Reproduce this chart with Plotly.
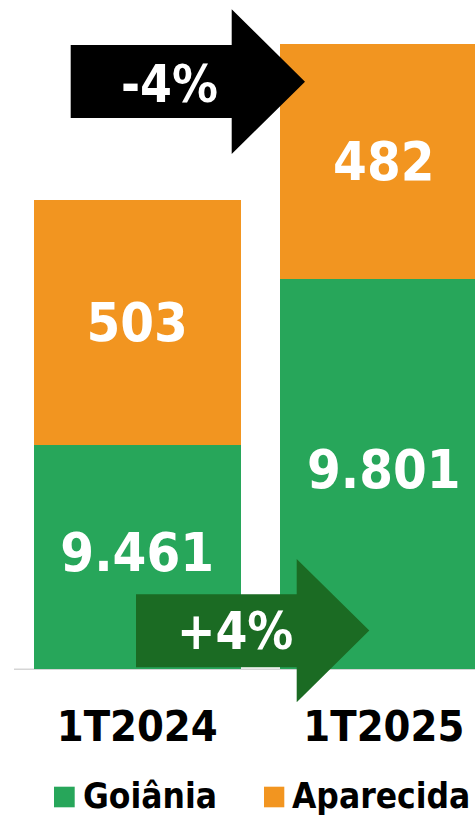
import plotly.graph_objects as go

# ---- data ----
categories = ["1T2024", "1T2025"]
goiania = [9461, 9801]
aparecida = [503, 482]
goiania_labels = ["9.461", "9.801"]
aparecida_labels = ["503", "482"]
series_names = ["Goiânia", "Aparecida"]
change_aparecida = "-4%"
change_goiania = "+4%"

GREEN = "#27A65A"
ORANGE = "#F29520"
DARK_GREEN = "#1B6B23"
FONT = "DejaVu Sans Condensed, DejaVu Sans, Verdana, sans-serif"

W, H = 475, 817
MT, MB = 0, 148
PH = H - MT - MB  # plot height in px
Y_MIN = 9003      # truncated value axis start
PX_PER_UNIT = 0.4884


def px_x(px):
    return px / W


def px_y(py):
    return (MT + PH - py) / PH


def path_from_px(points):
    return "M " + " L ".join(f"{px_x(x):.5f},{px_y(y):.5f}" for x, y in points) + " Z"


x_idx = list(range(len(categories)))
value_font = dict(family=FONT, size=54, color="white", weight="bold")

fig = go.Figure()
fig.add_trace(go.Bar(
    x=x_idx, y=goiania, name=series_names[0], marker=dict(color=GREEN, line=dict(width=0)),
    textposition="none", width=0.839, hoverinfo="skip", showlegend=False,
))
fig.add_trace(go.Bar(
    x=x_idx, y=aparecida, name=series_names[1], marker=dict(color=ORANGE, line=dict(width=0)),
    text=aparecida_labels, textposition="inside", insidetextanchor="middle",
    textfont=value_font, width=0.839, hoverinfo="skip", showlegend=False,
))
# labels of the (truncated) green segments, centred in their visible part
fig.add_trace(go.Scatter(
    x=x_idx, y=[(Y_MIN + v) / 2 for v in goiania], mode="text", text=goiania_labels,
    textposition="middle center", textfont=value_font, hoverinfo="skip", showlegend=False,
))

shapes = []
shapes.append(dict(type="line", xref="paper", yref="paper", x0=px_x(14), x1=1.0,
                   y0=px_y(669.3), y1=px_y(669.3), line=dict(color="#D5D5D5", width=1.5), layer="below"))
shapes.append(dict(type="path", xref="paper", yref="paper", fillcolor="black", line=dict(width=0),
                   path=path_from_px([(70.7, 45), (231.7, 45), (231.7, 9.3), (305, 81.7),
                                      (231.7, 154), (231.7, 118), (70.7, 118)])))
shapes.append(dict(type="path", xref="paper", yref="paper", fillcolor=DARK_GREEN, line=dict(width=0),
                   path=path_from_px([(136, 594.3), (296.7, 594.3), (296.7, 559), (369.3, 630.5),
                                      (296.7, 702.3), (296.7, 667.3), (136, 667.3)])))
shapes.append(dict(type="rect", xref="paper", yref="paper", fillcolor=GREEN, line=dict(width=0),
                   x0=px_x(54), x1=px_x(74.7), y0=px_y(807.3), y1=px_y(786.7)))
shapes.append(dict(type="rect", xref="paper", yref="paper", fillcolor=ORANGE, line=dict(width=0),
                   x0=px_x(264), x1=px_x(284.3), y0=px_y(807.3), y1=px_y(786.7)))

annotations = [
    dict(text=change_aparecida, xref="paper", yref="paper", x=px_x(169), y=px_y(84),
         xanchor="center", yanchor="middle", showarrow=False,
         font=dict(family=FONT, size=51, color="white", weight="bold")),
    dict(text=change_goiania, xref="paper", yref="paper", x=px_x(235), y=px_y(631),
         xanchor="center", yanchor="middle", showarrow=False,
         font=dict(family=FONT, size=51, color="white", weight="bold")),
    dict(text=series_names[0], xref="paper", yref="paper", x=px_x(81), y=px_y(796),
         xanchor="left", yanchor="middle", showarrow=False,
         font=dict(family=FONT, size=35, color="black", weight="bold")),
    dict(text=series_names[1], xref="paper", yref="paper", x=px_x(290), y=px_y(796),
         xanchor="left", yanchor="middle", showarrow=False,
         font=dict(family=FONT, size=35, color="black", weight="bold")),
]

fig.update_layout(
    width=W, height=H, barmode="stack",
    margin=dict(l=0, r=0, t=MT, b=MB, pad=0),
    paper_bgcolor="white", plot_bgcolor="white",
    shapes=shapes, annotations=annotations, showlegend=False,
    bargap=0.161,
)
fig.update_xaxes(range=[-0.5564, 1.3698], tickvals=x_idx, ticktext=categories,
                 tickfont=dict(family=FONT, size=43, color="black", weight="bold"),
                 showgrid=False, zeroline=False, showline=False, ticks="",
                 ticklabelstandoff=28)
fig.update_yaxes(range=[Y_MIN, Y_MIN + PH / PX_PER_UNIT], visible=False, showgrid=False)

fig.write_html("out.html", config={"displayModeBar": False},
               post_script="document.body.style.margin='0';document.body.style.overflow='hidden';")
